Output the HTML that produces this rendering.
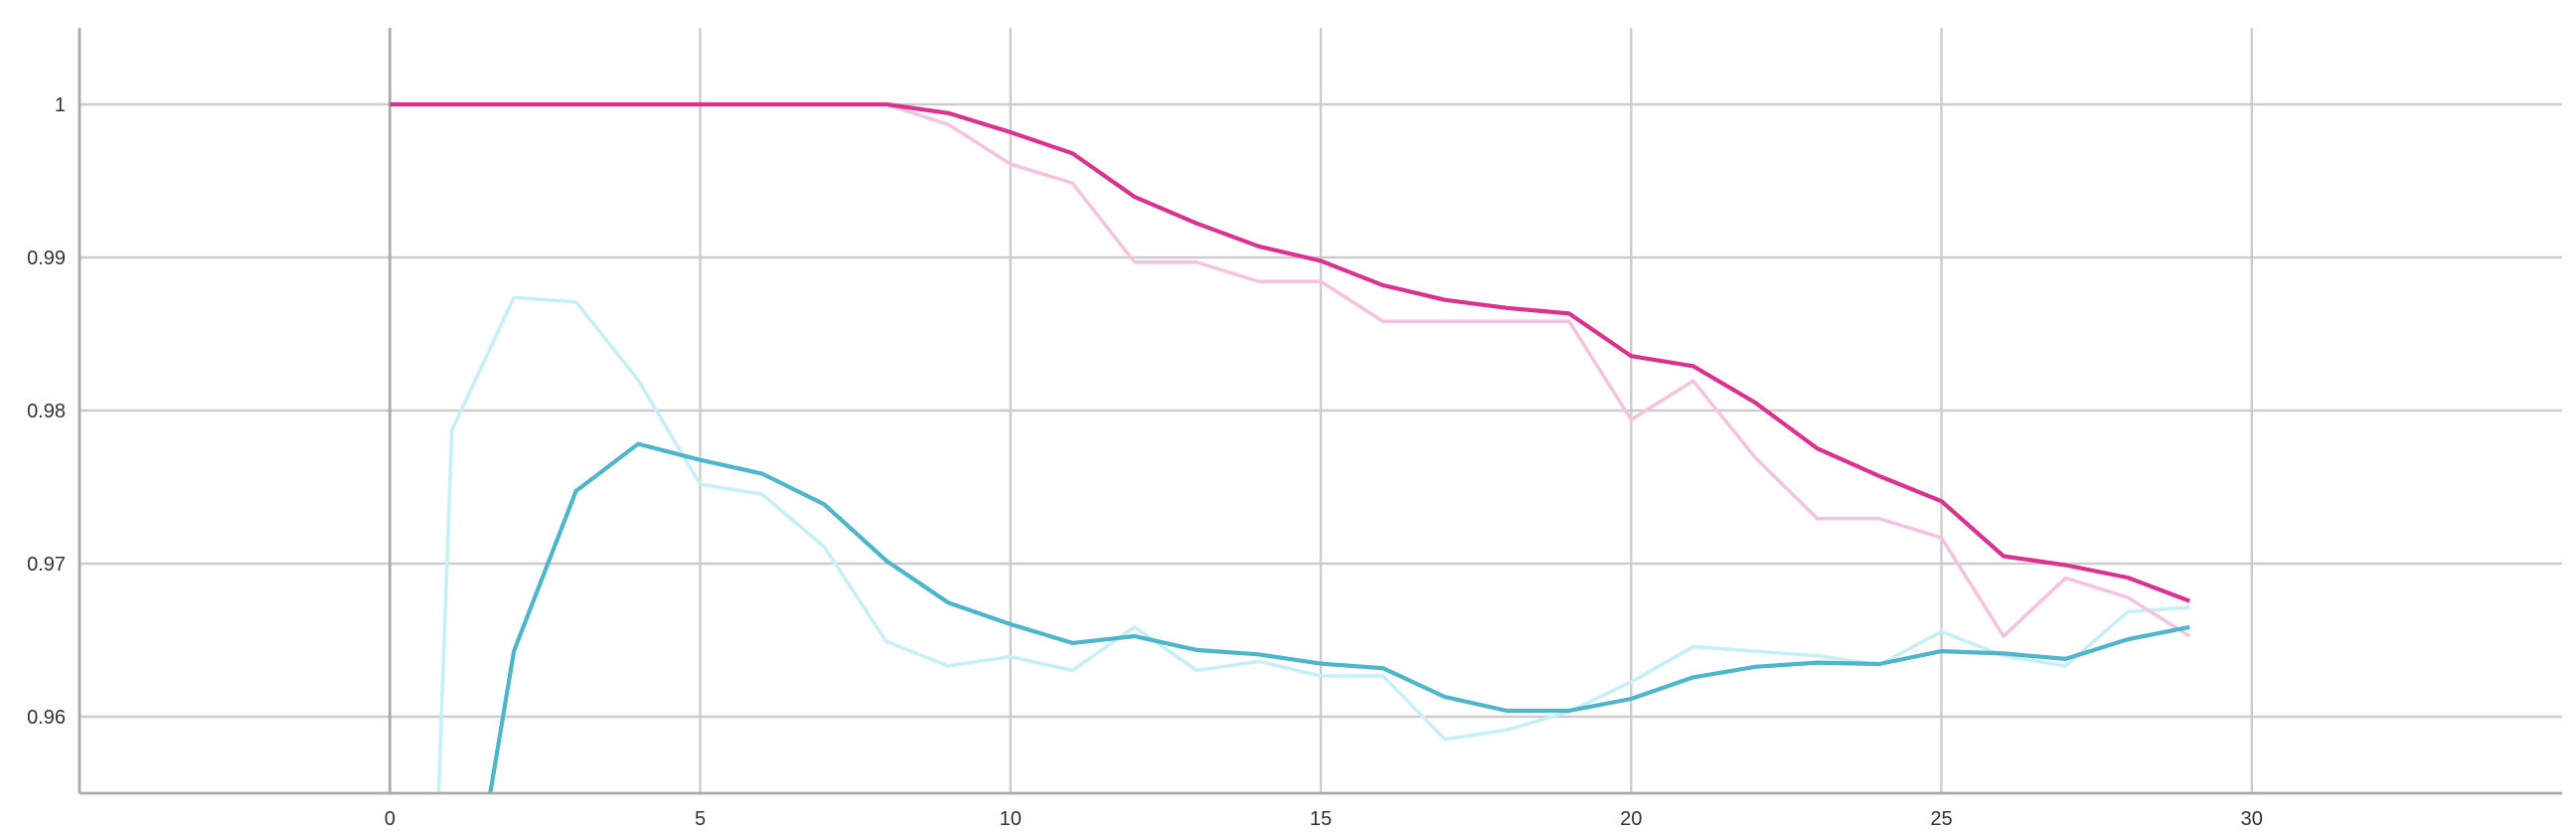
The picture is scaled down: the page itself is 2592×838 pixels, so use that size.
<!DOCTYPE html>
<html><head><meta charset="utf-8"><style>
html,body{margin:0;padding:0;background:#fff;width:2592px;height:838px;overflow:hidden;}
svg{display:block;font-family:"Liberation Sans",sans-serif;}
</style></head><body>
<svg id="chart" width="2592" height="838" viewBox="0 0 2592 838" xmlns="http://www.w3.org/2000/svg">
<defs><clipPath id="clip"><rect x="80" y="28" width="2498" height="770"/></clipPath></defs>
<g id="grid"></g>
<g id="series" clip-path="url(#clip)"></g>
<g id="axes"></g>
</svg>
<script>
const steps = [0,1,2,3,4,5,6,7,8,9,10,11,12,13,14,15,16,17,18,19,20,21,22,23,24,25,26,27,28,29];
const pinkSmooth = [1,1,1,1,1,1,1,1,1,0.99943,0.99818,0.9968,0.99396,0.99223,0.99073,0.98978,0.98819,0.98723,0.9867,0.98634,0.98356,0.9829,0.98051,0.97752,0.97572,0.97408,0.97049,0.9699,0.96909,0.96756];
const pinkRaw = [1,1,1,1,1,1,1,1,1,0.99868,0.9961,0.99486,0.98969,0.98969,0.98843,0.98843,0.98583,0.98583,0.98583,0.98583,0.9794,0.98194,0.97692,0.97294,0.97294,0.97169,0.96526,0.96906,0.9678,0.96526];
const cyanSmooth = [0.90,0.94,0.96428,0.97474,0.97782,0.97677,0.97587,0.97387,0.97019,0.96744,0.96604,0.96481,0.96526,0.96436,0.96407,0.96347,0.96317,0.96129,0.96039,0.96039,0.96117,0.96257,0.96326,0.96353,0.96344,0.96428,0.96413,0.96377,0.96505,0.96586];
const cyanRaw = [0.868,0.97871,0.98738,0.98709,0.982,0.97519,0.97453,0.97109,0.9649,0.96332,0.96392,0.96302,0.96586,0.96302,0.96362,0.96266,0.96266,0.95853,0.95913,0.96033,0.96227,0.96457,0.96427,0.96398,0.96338,0.96556,0.96398,0.96332,0.96685,0.96715];
const xTicks = [0,5,10,15,20,25,30];
const yTicks = [0.96,0.97,0.98,0.99,1];
const yTickLabels = ["0.96","0.97","0.98","0.99","1"];

const NS="http://www.w3.org/2000/svg";
const X0=80, X1=2578, Y0=798, Y1=28;
const xMin=-5, xMax=35, yMin=0.955, yMax=1.005;
function xs(v){return X0+(v-xMin)/(xMax-xMin)*(X1-X0);}
function ys(v){return Y0-(v-yMin)/(yMax-yMin)*(Y0-Y1);}
function mk(tag,attrs,parent){const e=document.createElementNS(NS,tag);for(const k in attrs)e.setAttribute(k,attrs[k]);parent.appendChild(e);return e;}
const grid=document.getElementById('grid'), ser=document.getElementById('series'), axes=document.getElementById('axes');

yTicks.forEach((t,i)=>{
  const l=mk('line',{x1:X0,x2:X1,y1:ys(t),y2:ys(t),stroke:'#cccccc','stroke-width':2.4},grid);
  
  
  const tx=mk('text',{x:66,y:ys(t)+7,'text-anchor':'end','font-size':20,fill:'#333'},axes);
  tx.textContent=yTickLabels[i];
  
  
});
xTicks.forEach(t=>{
  const l=mk('line',{x1:xs(t),x2:xs(t),y1:Y1,y2:Y0,stroke:t===0?'#aaaaaa':'#cccccc','stroke-width':t===0?2.8:2.4},grid);
  
  
  const tx=mk('text',{x:xs(t),y:830,'text-anchor':'middle','font-size':20,fill:'#333'},axes);
  tx.textContent=String(t);
  
  
});
const ya=mk('line',{x1:X0,x2:X0,y1:Y1,y2:Y0,stroke:'#aaaaaa','stroke-width':2.8},axes);


const xa=mk('line',{x1:X0,x2:X1,y1:Y0,y2:Y0,stroke:'#aaaaaa','stroke-width':2.8},axes);



function drawLine(vals,color,w,name){
  const d=vals.map((v,i)=>(i?'L':'M')+xs(steps[i]).toFixed(1)+','+ys(v).toFixed(1)).join(' ');
  const p=mk('path',{d:d,fill:'none',stroke:color,'stroke-width':w,'stroke-linejoin':'round'},ser);
  
  
}
drawLine(cyanRaw,'#c6eff6',3.6,'cyan-raw-line');
drawLine(pinkRaw,'#f3c4df',3.6,'pink-raw-line');
drawLine(cyanSmooth,'#4eb5cb',4.2,'cyan-smoothed-line');
drawLine(pinkSmooth,'#d9338f',4.2,'pink-smoothed-line');
</script>
</body></html>
